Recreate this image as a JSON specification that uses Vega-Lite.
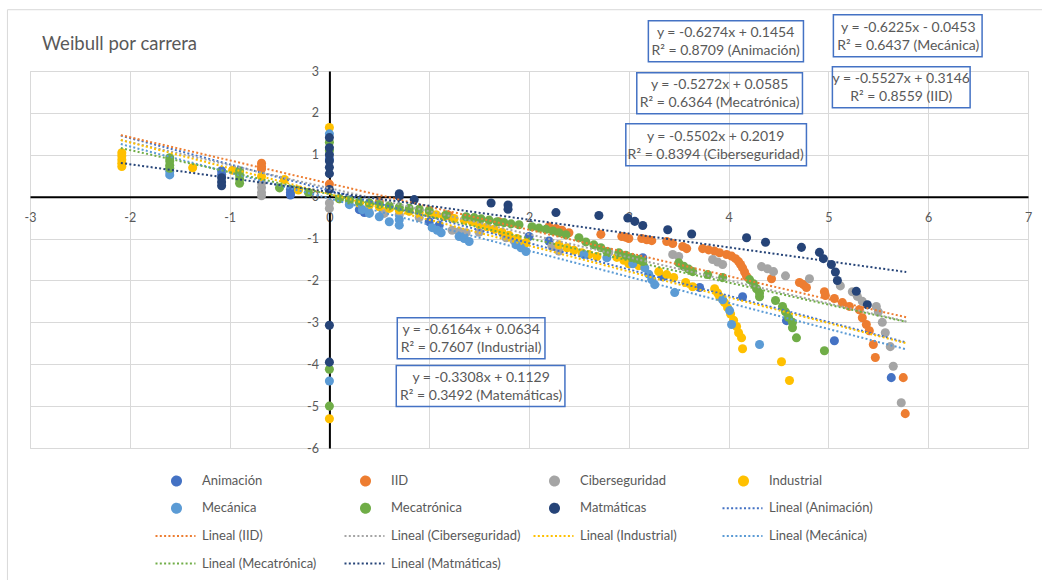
{
  "$schema": "https://vega.github.io/schema/vega-lite/v6.json",
  "autosize": {"type": "none"},
  "width": 998,
  "height": 377,
  "padding": {"left": 30, "top": 71, "right": 14, "bottom": 132},
  "background": "white",
  "config": {
    "font": "Lato",
    "view": {"stroke": "#d9d9d9", "strokeWidth": 1},
    "axis": {"gridColor": "#d9d9d9", "gridWidth": 1, "labelColor": "#595959", "labelFont": "Lato", "labelFontSize": 12.5, "ticks": false, "tickSize": 0, "domainColor": "#000000", "domainWidth": 2, "title": null, "labelFlush": false, "labelOverlap": false, "labelBound": false}
  },
  "title": {"text": "Weibull por carrera", "anchor": "start", "frame": "group", "fontSize": 18.5, "fontWeight": "normal", "font": "Lato", "color": "#595959", "baseline": "alphabetic", "offset": -59, "dx": 12},
  "datasets": {
    "pts": [
      {"serie":"Animación","x":-1.08,"y":0.62},{"serie":"Animación","x":-1.08,"y":0.53},
      {"serie":"Animación","x":-0.39,"y":0.17},{"serie":"Animación","x":-0.39,"y":0.1},{"serie":"Animación","x":-0.39,"y":0.04},
      {"serie":"Animación","x":0,"y":0.9},{"serie":"Animación","x":0.3,"y":-0.31},{"serie":"Animación","x":0.35,"y":-0.38},
      {"serie":"Animación","x":1.0,"y":-0.6},{"serie":"Animación","x":1.1,"y":-0.68},{"serie":"Animación","x":2.0,"y":-0.95},{"serie":"Animación","x":2.2,"y":-1.06},
      {"serie":"Animación","x":3.14,"y":-1.46},{"serie":"Animación","x":3.34,"y":-1.91},{"serie":"Animación","x":3.71,"y":-2.17},
      {"serie":"Animación","x":4.14,"y":-2.39},{"serie":"Animación","x":4.58,"y":-2.96},{"serie":"Animación","x":5.06,"y":-3.44},{"serie":"Animación","x":5.63,"y":-4.32},

      {"serie":"IID","x":-0.68,"y":0.8},{"serie":"IID","x":-0.68,"y":0.72},{"serie":"IID","x":-0.68,"y":0.66},
      {"serie":"IID","x":0,"y":0.3},{"serie":"IID","x":0.5,"y":-0.12},{"serie":"IID","x":1.2,"y":-0.45},{"serie":"IID","x":1.7,"y":-0.6},
      {"serie":"IID","x":2.2,"y":-0.72},{"serie":"IID","x":2.27,"y":-0.76},{"serie":"IID","x":2.33,"y":-0.8},{"serie":"IID","x":2.4,"y":-0.86},
      {"serie":"IID","x":2.72,"y":-0.9},{"serie":"IID","x":2.93,"y":-0.95},{"serie":"IID","x":2.97,"y":-0.97},{"serie":"IID","x":3.0,"y":-1.0},
      {"serie":"IID","x":3.13,"y":-1.0},{"serie":"IID","x":3.18,"y":-1.03},{"serie":"IID","x":3.23,"y":-1.05},{"serie":"IID","x":3.38,"y":-1.07},
      {"serie":"IID","x":3.44,"y":-1.12},{"serie":"IID","x":3.54,"y":-1.19},{"serie":"IID","x":3.58,"y":-1.24},{"serie":"IID","x":3.74,"y":-1.24},
      {"serie":"IID","x":3.8,"y":-1.27},{"serie":"IID","x":3.86,"y":-1.3},{"serie":"IID","x":3.91,"y":-1.34},{"serie":"IID","x":3.98,"y":-1.38},
      {"serie":"IID","x":4.03,"y":-1.42},{"serie":"IID","x":4.07,"y":-1.48},{"serie":"IID","x":4.1,"y":-1.55},{"serie":"IID","x":4.12,"y":-1.62},
      {"serie":"IID","x":4.14,"y":-1.7},{"serie":"IID","x":4.16,"y":-1.8},{"serie":"IID","x":4.18,"y":-1.9},{"serie":"IID","x":4.43,"y":-1.96},
      {"serie":"IID","x":4.71,"y":-2.05},{"serie":"IID","x":4.75,"y":-2.1},{"serie":"IID","x":4.78,"y":-2.17},{"serie":"IID","x":4.96,"y":-2.27},
      {"serie":"IID","x":4.97,"y":-2.36},{"serie":"IID","x":5.06,"y":-2.43},{"serie":"IID","x":5.14,"y":-2.53},{"serie":"IID","x":5.21,"y":-2.62},
      {"serie":"IID","x":5.31,"y":-2.7},{"serie":"IID","x":5.34,"y":-2.89},{"serie":"IID","x":5.38,"y":-3.05},{"serie":"IID","x":5.41,"y":-3.2},
      {"serie":"IID","x":5.45,"y":-3.53},{"serie":"IID","x":5.47,"y":-3.84},{"serie":"IID","x":5.75,"y":-4.32},{"serie":"IID","x":5.77,"y":-5.18},

      {"serie":"Ciberseguridad","x":-0.68,"y":0.33},{"serie":"Ciberseguridad","x":-0.68,"y":0.22},{"serie":"Ciberseguridad","x":-0.68,"y":0.1},{"serie":"Ciberseguridad","x":-0.68,"y":0.02},
      {"serie":"Ciberseguridad","x":0,"y":-0.15},{"serie":"Ciberseguridad","x":0,"y":-0.28},
      {"serie":"Ciberseguridad","x":0.4,"y":-0.38},{"serie":"Ciberseguridad","x":0.55,"y":-0.4},{"serie":"Ciberseguridad","x":0.7,"y":-0.43},{"serie":"Ciberseguridad","x":0.9,"y":-0.5},
      {"serie":"Ciberseguridad","x":1.23,"y":-0.8},{"serie":"Ciberseguridad","x":1.3,"y":-0.83},{"serie":"Ciberseguridad","x":1.37,"y":-0.86},{"serie":"Ciberseguridad","x":1.5,"y":-0.85},
      {"serie":"Ciberseguridad","x":1.77,"y":-0.98},{"serie":"Ciberseguridad","x":1.85,"y":-1.05},{"serie":"Ciberseguridad","x":1.9,"y":-1.1},{"serie":"Ciberseguridad","x":2.23,"y":-1.19},
      {"serie":"Ciberseguridad","x":2.3,"y":-1.3},{"serie":"Ciberseguridad","x":2.8,"y":-1.32},
      {"serie":"Ciberseguridad","x":3.44,"y":-1.38},{"serie":"Ciberseguridad","x":3.5,"y":-1.43},{"serie":"Ciberseguridad","x":3.84,"y":-1.5},{"serie":"Ciberseguridad","x":3.89,"y":-1.56},
      {"serie":"Ciberseguridad","x":3.94,"y":-1.62},{"serie":"Ciberseguridad","x":4.33,"y":-1.67},{"serie":"Ciberseguridad","x":4.39,"y":-1.72},{"serie":"Ciberseguridad","x":4.45,"y":-1.79},
      {"serie":"Ciberseguridad","x":4.57,"y":-1.89},{"serie":"Ciberseguridad","x":4.81,"y":-1.96},{"serie":"Ciberseguridad","x":5.12,"y":-2.13},{"serie":"Ciberseguridad","x":5.24,"y":-2.27},
      {"serie":"Ciberseguridad","x":5.29,"y":-2.38},{"serie":"Ciberseguridad","x":5.34,"y":-2.5},{"serie":"Ciberseguridad","x":5.48,"y":-2.62},{"serie":"Ciberseguridad","x":5.5,"y":-2.75},
      {"serie":"Ciberseguridad","x":5.54,"y":-3.0},{"serie":"Ciberseguridad","x":5.57,"y":-3.25},{"serie":"Ciberseguridad","x":5.62,"y":-3.58},{"serie":"Ciberseguridad","x":5.65,"y":-4.05},{"serie":"Ciberseguridad","x":5.73,"y":-4.92},

      {"serie":"Industrial","x":-2.08,"y":1.05},{"serie":"Industrial","x":-2.08,"y":0.97},{"serie":"Industrial","x":-2.08,"y":0.88},{"serie":"Industrial","x":-2.08,"y":0.8},{"serie":"Industrial","x":-2.08,"y":0.72},
      {"serie":"Industrial","x":-1.37,"y":0.69},{"serie":"Industrial","x":-0.97,"y":0.63},{"serie":"Industrial","x":-0.68,"y":0.48},{"serie":"Industrial","x":-0.45,"y":0.41},{"serie":"Industrial","x":-0.31,"y":0.16},
      {"serie":"Industrial","x":0,"y":1.65},{"serie":"Industrial","x":0,"y":-5.3},
      {"serie":"Industrial","x":0.1,"y":-0.05},{"serie":"Industrial","x":0.2,"y":-0.1},{"serie":"Industrial","x":0.3,"y":-0.15},{"serie":"Industrial","x":0.4,"y":-0.2},
      {"serie":"Industrial","x":0.5,"y":-0.24},{"serie":"Industrial","x":0.6,"y":-0.28},{"serie":"Industrial","x":0.7,"y":-0.32},{"serie":"Industrial","x":0.8,"y":-0.35},
      {"serie":"Industrial","x":0.9,"y":-0.38},{"serie":"Industrial","x":1.0,"y":-0.4},{"serie":"Industrial","x":1.07,"y":-0.43},{"serie":"Industrial","x":1.15,"y":-0.47},
      {"serie":"Industrial","x":1.25,"y":-0.52},{"serie":"Industrial","x":1.35,"y":-0.56},{"serie":"Industrial","x":1.43,"y":-0.6},{"serie":"Industrial","x":1.5,"y":-0.66},
      {"serie":"Industrial","x":1.58,"y":-0.72},{"serie":"Industrial","x":1.65,"y":-0.78},{"serie":"Industrial","x":1.73,"y":-0.85},{"serie":"Industrial","x":1.8,"y":-0.92},
      {"serie":"Industrial","x":1.88,"y":-1.0},{"serie":"Industrial","x":1.97,"y":-1.1},{"serie":"Industrial","x":2.3,"y":-1.15},{"serie":"Industrial","x":2.38,"y":-1.22},
      {"serie":"Industrial","x":2.45,"y":-1.28},{"serie":"Industrial","x":2.53,"y":-1.34},{"serie":"Industrial","x":2.6,"y":-1.38},{"serie":"Industrial","x":2.68,"y":-1.43},
      {"serie":"Industrial","x":2.88,"y":-1.45},{"serie":"Industrial","x":2.95,"y":-1.52},{"serie":"Industrial","x":3.0,"y":-1.6},{"serie":"Industrial","x":3.1,"y":-1.65},
      {"serie":"Industrial","x":3.3,"y":-1.79},{"serie":"Industrial","x":3.38,"y":-1.86},{"serie":"Industrial","x":3.45,"y":-1.93},{"serie":"Industrial","x":3.57,"y":-2.05},
      {"serie":"Industrial","x":3.64,"y":-2.15},{"serie":"Industrial","x":3.86,"y":-2.2},{"serie":"Industrial","x":3.89,"y":-2.3},{"serie":"Industrial","x":3.91,"y":-2.39},
      {"serie":"Industrial","x":3.96,"y":-2.53},{"serie":"Industrial","x":3.99,"y":-2.65},{"serie":"Industrial","x":4.02,"y":-2.8},{"serie":"Industrial","x":4.05,"y":-2.95},
      {"serie":"Industrial","x":4.08,"y":-3.1},{"serie":"Industrial","x":4.1,"y":-3.25},{"serie":"Industrial","x":4.13,"y":-3.37},{"serie":"Industrial","x":4.14,"y":-3.63},
      {"serie":"Industrial","x":4.53,"y":-3.94},{"serie":"Industrial","x":4.61,"y":-4.39},

      {"serie":"Mecánica","x":-1.6,"y":0.6},{"serie":"Mecánica","x":-1.6,"y":0.52},
      {"serie":"Mecánica","x":0,"y":1.5},{"serie":"Mecánica","x":0,"y":-4.4},
      {"serie":"Mecánica","x":0.2,"y":-0.19},{"serie":"Mecánica","x":0.33,"y":-0.31},{"serie":"Mecánica","x":0.4,"y":-0.4},{"serie":"Mecánica","x":0.5,"y":-0.48},
      {"serie":"Mecánica","x":0.6,"y":-0.6},{"serie":"Mecánica","x":0.7,"y":-0.55},{"serie":"Mecánica","x":0.7,"y":-0.68},{"serie":"Mecánica","x":1.03,"y":-0.74},
      {"serie":"Mecánica","x":1.08,"y":-0.8},{"serie":"Mecánica","x":1.12,"y":-0.86},{"serie":"Mecánica","x":1.3,"y":-0.95},{"serie":"Mecánica","x":1.35,"y":-1.0},
      {"serie":"Mecánica","x":1.4,"y":-1.07},{"serie":"Mecánica","x":1.87,"y":-1.15},{"serie":"Mecánica","x":1.92,"y":-1.22},{"serie":"Mecánica","x":1.97,"y":-1.31},
      {"serie":"Mecánica","x":2.55,"y":-1.38},{"serie":"Mecánica","x":2.78,"y":-1.46},{"serie":"Mecánica","x":3.04,"y":-1.6},{"serie":"Mecánica","x":3.16,"y":-1.7},
      {"serie":"Mecánica","x":3.2,"y":-1.85},{"serie":"Mecánica","x":3.23,"y":-1.98},{"serie":"Mecánica","x":3.26,"y":-2.1},{"serie":"Mecánica","x":3.46,"y":-2.29},
      {"serie":"Mecánica","x":3.94,"y":-2.46},{"serie":"Mecánica","x":4.01,"y":-2.72},{"serie":"Mecánica","x":4.03,"y":-3.05},{"serie":"Mecánica","x":4.31,"y":-3.53},

      {"serie":"Mecatrónica","x":-1.6,"y":0.93},{"serie":"Mecatrónica","x":-1.6,"y":0.85},{"serie":"Mecatrónica","x":-1.6,"y":0.75},{"serie":"Mecatrónica","x":-1.6,"y":0.68},
      {"serie":"Mecatrónica","x":-0.9,"y":0.62},{"serie":"Mecatrónica","x":-0.9,"y":0.52},{"serie":"Mecatrónica","x":-0.9,"y":0.42},{"serie":"Mecatrónica","x":-0.9,"y":0.32},
      {"serie":"Mecatrónica","x":-0.5,"y":0.21},{"serie":"Mecatrónica","x":-0.21,"y":0.1},
      {"serie":"Mecatrónica","x":0,"y":1.3},{"serie":"Mecatrónica","x":0,"y":1.1},{"serie":"Mecatrónica","x":0,"y":-4.12},{"serie":"Mecatrónica","x":0,"y":-5.0},
      {"serie":"Mecatrónica","x":0.1,"y":-0.05},{"serie":"Mecatrónica","x":0.2,"y":-0.08},{"serie":"Mecatrónica","x":0.3,"y":-0.12},{"serie":"Mecatrónica","x":0.4,"y":-0.15},
      {"serie":"Mecatrónica","x":0.5,"y":-0.18},{"serie":"Mecatrónica","x":0.6,"y":-0.22},{"serie":"Mecatrónica","x":0.7,"y":-0.25},{"serie":"Mecatrónica","x":0.8,"y":-0.28},
      {"serie":"Mecatrónica","x":0.9,"y":-0.3},{"serie":"Mecatrónica","x":1.0,"y":-0.33},{"serie":"Mecatrónica","x":1.17,"y":-0.43},{"serie":"Mecatrónica","x":1.37,"y":-0.48},
      {"serie":"Mecatrónica","x":1.45,"y":-0.5},{"serie":"Mecatrónica","x":1.52,"y":-0.53},{"serie":"Mecatrónica","x":1.6,"y":-0.56},{"serie":"Mecatrónica","x":1.68,"y":-0.6},
      {"serie":"Mecatrónica","x":1.75,"y":-0.62},{"serie":"Mecatrónica","x":1.82,"y":-0.65},{"serie":"Mecatrónica","x":1.9,"y":-0.67},{"serie":"Mecatrónica","x":2.03,"y":-0.72},
      {"serie":"Mecatrónica","x":2.1,"y":-0.75},{"serie":"Mecatrónica","x":2.17,"y":-0.78},{"serie":"Mecatrónica","x":2.24,"y":-0.82},{"serie":"Mecatrónica","x":2.3,"y":-0.86},
      {"serie":"Mecatrónica","x":2.37,"y":-0.91},{"serie":"Mecatrónica","x":2.5,"y":-0.98},{"serie":"Mecatrónica","x":2.57,"y":-1.08},{"serie":"Mecatrónica","x":2.65,"y":-1.15},
      {"serie":"Mecatrónica","x":2.72,"y":-1.22},{"serie":"Mecatrónica","x":2.78,"y":-1.31},{"serie":"Mecatrónica","x":2.9,"y":-1.34},{"serie":"Mecatrónica","x":2.97,"y":-1.4},
      {"serie":"Mecatrónica","x":3.03,"y":-1.45},{"serie":"Mecatrónica","x":3.1,"y":-1.5},{"serie":"Mecatrónica","x":3.14,"y":-1.55},{"serie":"Mecatrónica","x":3.5,"y":-1.58},
      {"serie":"Mecatrónica","x":3.55,"y":-1.66},{"serie":"Mecatrónica","x":3.6,"y":-1.73},{"serie":"Mecatrónica","x":3.64,"y":-1.79},{"serie":"Mecatrónica","x":3.79,"y":-1.86},
      {"serie":"Mecatrónica","x":3.94,"y":-1.93},{"serie":"Mecatrónica","x":4.21,"y":-1.98},{"serie":"Mecatrónica","x":4.25,"y":-2.08},{"serie":"Mecatrónica","x":4.28,"y":-2.2},
      {"serie":"Mecatrónica","x":4.31,"y":-2.3},{"serie":"Mecatrónica","x":4.31,"y":-2.39},{"serie":"Mecatrónica","x":4.47,"y":-2.48},{"serie":"Mecatrónica","x":4.54,"y":-2.62},
      {"serie":"Mecatrónica","x":4.57,"y":-2.75},{"serie":"Mecatrónica","x":4.6,"y":-2.88},{"serie":"Mecatrónica","x":4.64,"y":-3.0},{"serie":"Mecatrónica","x":4.64,"y":-3.13},
      {"serie":"Mecatrónica","x":4.68,"y":-3.37},{"serie":"Mecatrónica","x":4.96,"y":-3.68},

      {"serie":"Matmáticas","x":-1.08,"y":0.45},{"serie":"Matmáticas","x":-1.08,"y":0.35},{"serie":"Matmáticas","x":-1.08,"y":0.26},
      {"serie":"Matmáticas","x":0,"y":1.41},{"serie":"Matmáticas","x":0,"y":1.17},{"serie":"Matmáticas","x":0,"y":1.0},{"serie":"Matmáticas","x":0,"y":0.85},
      {"serie":"Matmáticas","x":0,"y":0.7},{"serie":"Matmáticas","x":0,"y":0.55},{"serie":"Matmáticas","x":0,"y":0.17},{"serie":"Matmáticas","x":0,"y":-3.07},{"serie":"Matmáticas","x":0,"y":-3.95},
      {"serie":"Matmáticas","x":0.7,"y":0.07},{"serie":"Matmáticas","x":0.7,"y":0.0},{"serie":"Matmáticas","x":0.85,"y":-0.07},{"serie":"Matmáticas","x":1.62,"y":-0.15},
      {"serie":"Matmáticas","x":1.79,"y":-0.2},{"serie":"Matmáticas","x":1.79,"y":-0.3},{"serie":"Matmáticas","x":2.27,"y":-0.38},{"serie":"Matmáticas","x":2.7,"y":-0.45},
      {"serie":"Matmáticas","x":2.99,"y":-0.51},{"serie":"Matmáticas","x":3.06,"y":-0.59},{"serie":"Matmáticas","x":3.14,"y":-0.69},{"serie":"Matmáticas","x":3.39,"y":-0.79},
      {"serie":"Matmáticas","x":3.63,"y":-0.89},{"serie":"Matmáticas","x":4.18,"y":-0.98},{"serie":"Matmáticas","x":4.37,"y":-1.09},{"serie":"Matmáticas","x":4.73,"y":-1.21},
      {"serie":"Matmáticas","x":4.91,"y":-1.33},{"serie":"Matmáticas","x":4.95,"y":-1.48},{"serie":"Matmáticas","x":5.03,"y":-1.62},{"serie":"Matmáticas","x":5.07,"y":-1.8},
      {"serie":"Matmáticas","x":5.09,"y":-2.0},{"serie":"Matmáticas","x":5.28,"y":-2.26},{"serie":"Matmáticas","x":5.39,"y":-2.58}
    ],
    "trend": [
      {"serie":"Lineal (Animación)","x":-2.09,"y":1.4567},{"serie":"Lineal (Animación)","x":5.78,"y":-3.481},
      {"serie":"Lineal (IID)","x":-2.09,"y":1.4697},{"serie":"Lineal (IID)","x":5.78,"y":-2.88},
      {"serie":"Lineal (Ciberseguridad)","x":-2.09,"y":1.3518},{"serie":"Lineal (Ciberseguridad)","x":5.78,"y":-2.9783},
      {"serie":"Lineal (Industrial)","x":-2.09,"y":1.3517},{"serie":"Lineal (Industrial)","x":5.78,"y":-3.4994},
      {"serie":"Lineal (Mecánica)","x":-2.09,"y":1.2557},{"serie":"Lineal (Mecánica)","x":5.78,"y":-3.6434},
      {"serie":"Lineal (Mecatrónica)","x":-2.09,"y":1.1603},{"serie":"Lineal (Mecatrónica)","x":5.78,"y":-2.9887},
      {"serie":"Lineal (Matmáticas)","x":-2.09,"y":0.8043},{"serie":"Lineal (Matmáticas)","x":5.78,"y":-1.7991}
    ],
    "notes": [
      {"x":3.97,"y":3.7,"x1":3.196,"x2":4.75,"y1":4.2,"y2":3.22,"t":["y = -0.6274x + 0.1454","R² = 0.8709 (Animación)"]},
      {"x":5.8,"y":3.82,"x1":5.05,"x2":6.54,"y1":4.34,"y2":3.34,"t":["y = -0.6225x - 0.0453","R² = 0.6437 (Mecánica)"]},
      {"x":3.91,"y":2.46,"x1":3.08,"x2":4.74,"y1":2.96,"y2":1.98,"t":["y = -0.5272x + 0.0585","R² = 0.6364 (Mecatrónica)"]},
      {"x":5.73,"y":2.6,"x1":5.04,"x2":6.42,"y1":3.1,"y2":2.12,"t":["y = -0.5527x + 0.3146","R² = 0.8559 (IID)"]},
      {"x":3.87,"y":1.22,"x1":2.97,"x2":4.78,"y1":1.74,"y2":0.74,"t":["y = -0.5502x + 0.2019","R² = 0.8394 (Ciberseguridad)"]},
      {"x":1.42,"y":-3.4,"x1":0.68,"x2":2.16,"y1":-2.89,"y2":-3.87,"t":["y = -0.6164x + 0.0634","R² = 0.7607 (Industrial)"]},
      {"x":1.52,"y":-4.55,"x1":0.67,"x2":2.36,"y1":-4.03,"y2":-5.01,"t":["y = -0.3308x + 0.1129","R² = 0.3492 (Matemáticas)"]}
    ],
    "frame": [
      {"x1": -3.226, "x2": 7.4, "y1": 4.463, "y2": -9.5}
    ]
  },
  "layer": [
    {
      "data": {"name": "frame"},
      "mark": {"type": "rect", "fill": null, "fillOpacity": 0, "stroke": "#d9d9d9", "strokeWidth": 1, "clip": false},
      "encoding": {
        "x": {"field": "x1", "type": "quantitative", "scale": {"domain": [-3, 7], "nice": false, "zero": false},
              "axis": {"values": [-3,-2,-1,0,1,2,3,4,5,6,7], "labelExpr": "'' + datum.value", "orient": "bottom", "offset": -251.33, "labelPadding": 15}},
        "x2": {"field": "x2"},
        "y": {"field": "y1", "type": "quantitative", "scale": {"domain": [-6, 3], "nice": false, "zero": false},
              "axis": {"values": [-6,-5,-4,-3,-2,-1,0,1,2,3], "labelExpr": "'' + datum.value", "orient": "left", "offset": -299.4, "labelPadding": 11}},
        "y2": {"field": "y2"}
      }
    },
    {
      "data": {"name": "pts"},
      "mark": {"type": "circle", "size": 82, "opacity": 1},
      "encoding": {
        "x": {"field": "x", "type": "quantitative"},
        "y": {"field": "y", "type": "quantitative"},
        "color": {"field": "serie", "type": "nominal",
          "scale": {
            "domain": ["Animación","IID","Ciberseguridad","Industrial","Mecánica","Mecatrónica","Matmáticas","Lineal (Animación)","Lineal (IID)","Lineal (Ciberseguridad)","Lineal (Industrial)","Lineal (Mecánica)","Lineal (Mecatrónica)","Lineal (Matmáticas)"],
            "range": ["#4472C4","#ED7D31","#A5A5A5","#FFC000","#5B9BD5","#70AD47","#264478","#4472C4","#ED7D31","#A5A5A5","#FFC000","#5B9BD5","#70AD47","#264478"]
          },
          "legend": {
            "title": null, "orient": "none", "direction": "horizontal", "legendX": 119, "legendY": 403, "columns": 4, "gridAlign": "all",
            "columnPadding": 6, "rowPadding": 8.7, "padding": 0,
            "symbolSize": 100, "symbolStrokeWidth": 2, "labelOffset": 40,
            "labelFont": "Lato", "labelFontSize": 13, "labelColor": "#595959", "labelLimit": 0,
            "encoding": {"symbols": {
              "shape": {"value": {"expr": "indexof(datum.value, 'Lineal') === 0 ? 'M0,0H8' : 'M3.3,0A0.9,0.9,0,1,1,5.1,0A0.9,0.9,0,1,1,3.3,0Z'"}},
              "fill": {"value": {"expr": "indexof(datum.value, 'Lineal') === 0 ? 'transparent' : scale('color', datum.value)"}},
              "stroke": {"value": {"expr": "indexof(datum.value, 'Lineal') === 0 ? scale('color', datum.value) : 'transparent'"}},
              "strokeDash": {"value": {"expr": "indexof(datum.value, 'Lineal') === 0 ? [2, 2.3] : [1, 0]"}},
              "strokeWidth": {"value": 2},
              "opacity": {"value": 1}
            }}
          }
        }
      }
    },
    {
      "data": {"name": "trend"},
      "mark": {"type": "line", "strokeWidth": 2, "strokeDash": [2, 2.3]},
      "encoding": {
        "x": {"field": "x", "type": "quantitative"},
        "y": {"field": "y", "type": "quantitative"},
        "color": {"field": "serie", "type": "nominal"}
      }
    },
    {
      "data": {"name": "notes"},
      "mark": {"type": "rect", "fill": null, "fillOpacity": 0, "stroke": "#4472C4", "strokeWidth": 1.5, "clip": false},
      "encoding": {
        "x": {"field": "x1", "type": "quantitative"},
        "x2": {"field": "x2"},
        "y": {"field": "y1", "type": "quantitative"},
        "y2": {"field": "y2"}
      }
    },
    {
      "data": {"name": "notes"},
      "mark": {"type": "text", "font": "Lato", "fontSize": 14, "color": "#595959", "align": "center", "baseline": "middle", "lineHeight": 18, "dy": -9, "clip": false},
      "encoding": {
        "x": {"field": "x", "type": "quantitative"},
        "y": {"field": "y", "type": "quantitative"},
        "text": {"field": "t"}
      }
    }
  ]
}
